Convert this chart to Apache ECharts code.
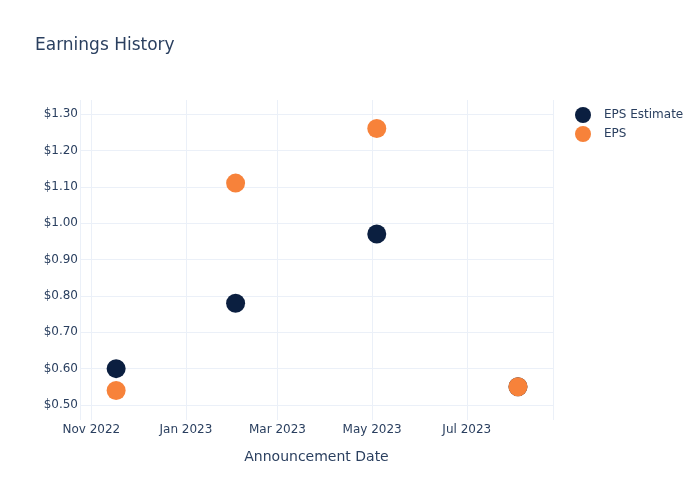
<!DOCTYPE html>
<html>
<head>
<meta charset="utf-8">
<script src="https://cdn.jsdelivr.net/npm/echarts@6/dist/echarts.min.js"></script>
<style>html,body{margin:0;padding:0;background:#fff}#c{width:700px;height:500px}</style>
</head>
<body>
<div id="c"></div>
<script>
var dates = ['2022-11-17', '2023-02-02', '2023-05-04', '2023-08-03'];
var epsEstimate = [0.60, 0.78, 0.97, 0.55];
var epsActual = [0.54, 1.11, 1.26, 0.55];
var seriesNames = ['EPS Estimate', 'EPS'];
var xRange = ['2022-10-24T17:00:00', '2023-08-25T14:00:00'];
var yRange = [0.4588, 1.3385];

var FONT = '"DejaVu Sans", Verdana, sans-serif';
var TXT = '#2a3f5f';
var GRID = '#ebf0f8';
function ts(s) { return new Date(s + (s.length === 10 ? 'T00:00:00' : '')).getTime(); }
function pairs(vals) { return dates.map(function (d, i) { return [ts(d), vals[i]]; }); }

var chart = echarts.init(document.getElementById('c'), null, { renderer: 'canvas' });
chart.setOption({
  animation: false,
  backgroundColor: '#fff',
  textStyle: { fontFamily: FONT },
  title: {
    text: 'Earnings History', left: 30, top: 32,
    textStyle: { fontFamily: FONT, fontSize: 17, fontWeight: 'normal', color: TXT }
  },
  legend: {
    orient: 'vertical', left: 570, top: 102, itemGap: 3,
    icon: 'circle', itemWidth: 16, itemHeight: 16,
    textStyle: { fontFamily: FONT, fontSize: 12, color: TXT, padding: [0, 0, 0, 8] },
    data: seriesNames
  },
  grid: { left: 80, right: 147, top: 100, bottom: 80 },
  xAxis: {
    type: 'time',
    min: ts(xRange[0]), max: ts(xRange[1]),
    splitNumber: 5,
    minInterval: 62 * 86400000, maxInterval: 62 * 86400000,
    name: 'Announcement Date', nameLocation: 'middle', nameGap: 30,
    nameTextStyle: { fontFamily: FONT, fontSize: 14, color: TXT },
    axisLine: { show: false }, axisTick: { show: false },
    axisLabel: {
      formatter: '{MMM} {yyyy}', fontFamily: FONT, fontSize: 12, color: TXT, margin: 4,
      fontWeight: 'normal', showMinLabel: false, showMaxLabel: false,
      rich: {}
    },
    splitLine: { show: true, lineStyle: { color: GRID, width: 1 } }
  },
  yAxis: {
    type: 'value',
    min: yRange[0], max: yRange[1],
    splitNumber: 8,
    axisLine: { show: false }, axisTick: { show: false },
    axisLabel: {
      formatter: function (v) { return '$' + v.toFixed(2); },
      fontFamily: FONT, fontSize: 12, color: TXT, margin: 2,
      padding: [4, 0, 0, 0],
      showMinLabel: false, showMaxLabel: false
    },
    splitLine: { show: true, showMinLine: false, showMaxLine: false, lineStyle: { color: GRID, width: 1 } }
  },
  series: [
    {
      name: seriesNames[0], type: 'scatter', symbol: 'circle', symbolSize: 19,
      itemStyle: { color: '#0b1f40', opacity: 1 },
      data: pairs(epsEstimate)
    },
    {
      name: seriesNames[1], type: 'scatter', symbol: 'circle', symbolSize: 19,
      itemStyle: { color: '#f7823a', opacity: 1 },
      data: pairs(epsActual)
    }
  ]
});
</script>
</body>
</html>
